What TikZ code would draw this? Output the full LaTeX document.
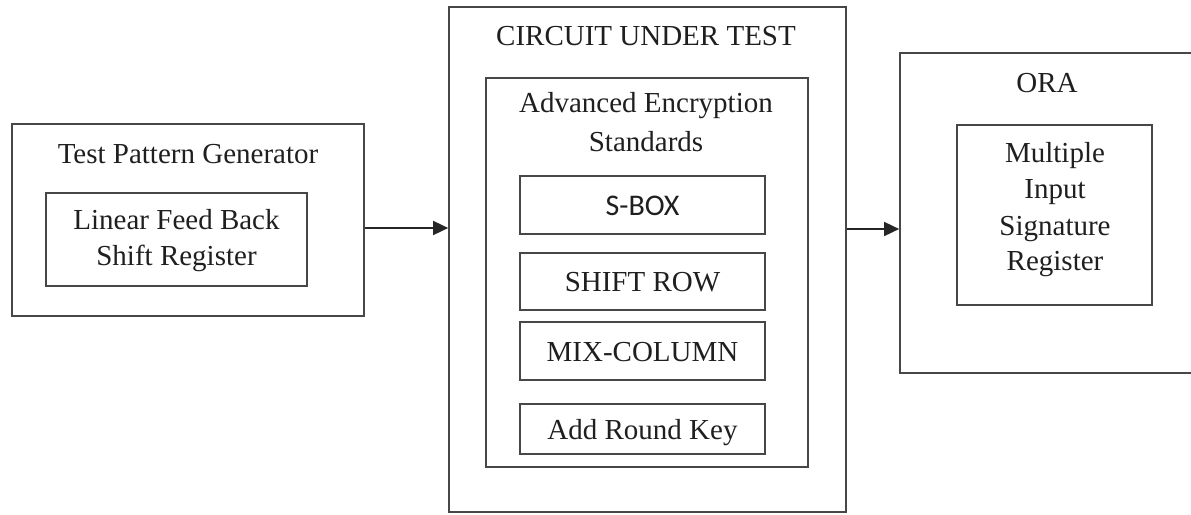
\documentclass[tikz,border=0pt]{standalone}
\usepackage{fontspec}
\setmainfont{Liberation Serif}
\newfontfamily\sbfont{Carlito}
\usetikzlibrary{arrows.meta}
\begin{document}
\begin{tikzpicture}[x=1pt,y=-1pt,
  blk/.style={draw=black!72,line width=1.7pt,inner sep=0pt,fill=none},
  stage/.style={blk,minimum width=245pt,text height=20pt,text depth=0pt,
    font=\fontsize{29}{34}\selectfont,text=black!88},
  txt/.style={anchor=base,inner sep=0pt,font=\fontsize{29}{34}\selectfont,text=black!88},
  flow/.style={draw=black!85,line width=1.7pt,-{Triangle[length=15pt,width=14pt]}}]
\useasboundingbox[fill=white] (0,0) rectangle (1191,514);

% Test pattern generator
\node[blk,minimum width=352pt,minimum height=192pt] (tpg) at (188,220) {};
\node[txt] (tpgT) at (188,163) {Test Pattern Generator};
\node[blk,minimum width=261pt,minimum height=93pt] (lfsr) at (176.5,239.5) {};
\node[txt] (lfsr1) at (176.5,229) {Linear Feed Back};
\node[txt] (lfsr2) at (176.5,265) {Shift Register};

% Circuit under test
\node[blk,minimum width=397pt,minimum height=505pt] (cut) at (647.5,259.5) {};
\node[txt] (cutT) at (646,45) {CIRCUIT UNDER TEST};
\node[blk,minimum width=322pt,minimum height=389pt] (aes) at (647,272.5) {};
\node[txt] (aes1) at (646,112) {Advanced Encryption};
\node[txt] (aes2) at (646,151) {Standards};
\node[stage,minimum height=58pt,font=\sbfont\fontsize{30}{34}\selectfont] (sbox) at (642.5,205) {S-BOX};
\node[stage,minimum height=57pt] (shift) at (642.5,281.5) {SHIFT ROW};
\node[stage,minimum height=58pt] (mix) at (642.5,351) {MIX-COLUMN};
\node[stage,minimum height=50pt] (ark) at (642.5,429) {Add Round Key};

% Output response analyser
\node[blk,minimum width=300pt,minimum height=320pt] (ora) at (1050,213) {};
\node[txt] (oraT) at (1047,92) {ORA};
\node[blk,minimum width=195pt,minimum height=180pt] (misr) at (1054.5,215) {};
\node[txt] (misr1) at (1055,162) {Multiple};
\node[txt] (misr2) at (1055,198) {Input};
\node[txt] (misr3) at (1055,235) {Signature};
\node[txt] (misr4) at (1055,270) {Register};

% Data flow
\coordinate (a1) at ([yshift=-8pt]tpg.east);
\draw[flow] (a1) -- (a1 -| cut.west);
\coordinate (a2) at ([yshift=-16pt]ora.west);
\draw[flow] (a2 -| cut.east) -- (a2);
\end{tikzpicture}
\end{document}
